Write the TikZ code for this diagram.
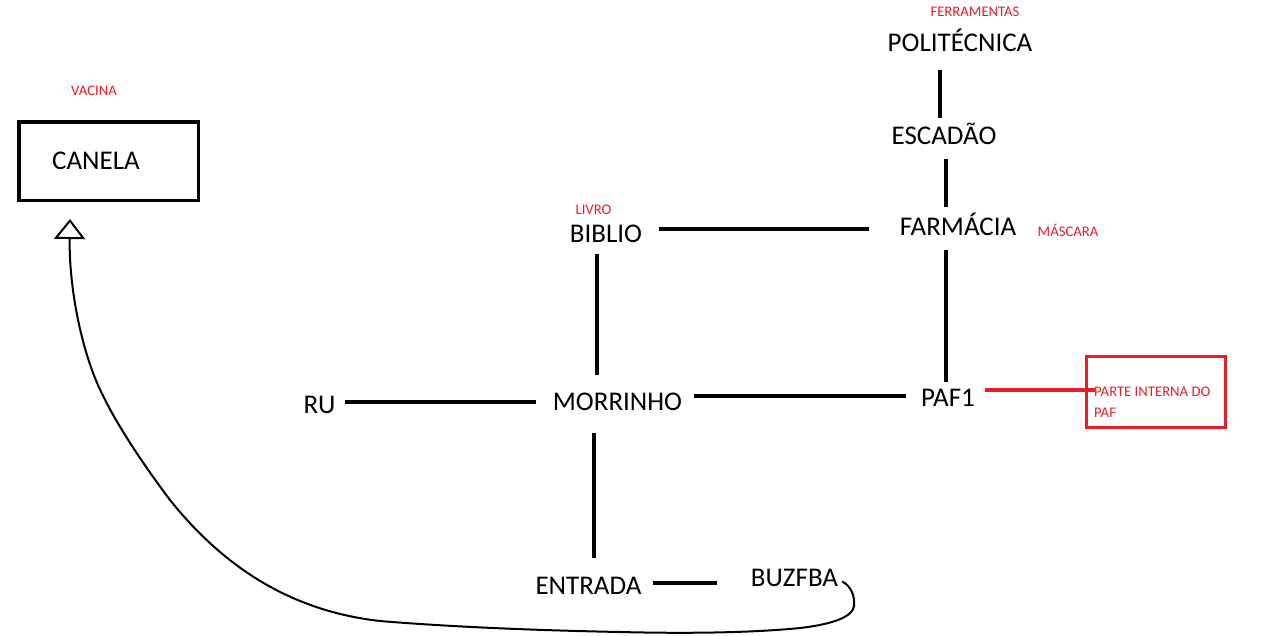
\documentclass[tikz,border=0pt]{standalone}
\usepackage{fontspec}
\setmainfont{Carlito}
\usetikzlibrary{arrows.meta}
\definecolor{pred}{RGB}{237,28,36}
\tikzset{
  lbl/.style={font=\fontsize{27}{32}\selectfont, inner sep=0pt, text height=17.4pt, text depth=0pt},
  rlbl/.style={font=\fontsize{14.7}{20.5}\selectfont, text=pred, inner sep=0pt, text height=9.5pt, text depth=0pt},
  conn/.style={line width=3.2pt, draw=black},
  rconn/.style={line width=3.2pt, draw=pred},
}
\begin{document}
\begin{tikzpicture}[x=1pt,y=-1pt]
\useasboundingbox (0,0) rectangle (1280,635);
\fill[white] (0,0) rectangle (1280,635);

% nodes
\node[rlbl] (vac) at (94,91) {VACINA};
\node[lbl, draw, line width=3.5pt, minimum width=179.5pt, minimum height=78.5pt] (can) at (108.5,161) {\hspace*{-25pt}CANELA};
\node[rlbl] (ferr) at (975,12) {FERRAMENTAS};
\node[lbl] (pol) at (960,42.5) {POLITÉCNICA};
\node[lbl] (esc) at (944,136) {ESCADÃO};
\node[lbl] (far) at (958,227) {FARMÁCIA};
\node[rlbl] (masc) at (1068,232) {MÁSCARA};
\node[rlbl] (livro) at (593.5,210) {LIVRO};
\node[lbl] (bib) at (606,233.5) {BIBLIO};
\node[lbl] (ru) at (319.5,405) {RU};
\node[lbl] (mor) at (617.5,401.5) {MORRINHO};
\node[lbl] (paf) at (948,398) {PAF1};
\node[lbl] (ent) at (588.5,586) {ENTRADA};
\node[lbl] (buz) at (794.5,577.5) {BUZFBA};
\node[draw=pred, line width=3pt, minimum width=139pt, minimum height=71pt, inner sep=0pt] (pbox) at (1156,392) {};
\node[font=\fontsize{14.7}{20.5}\selectfont, text=pred, inner sep=0pt, anchor=north west, align=left] (ptxt) at (1094,387) {PARTE INTERNA DO\\PAF};

% connectors
\draw[conn, shorten <=19pt, shorten >=9pt] ([xshift=-20pt]pol.south) -- ([xshift=-4pt]esc.north);
\draw[conn, shorten <=14pt, shorten >=11pt] ([xshift=2pt]esc.south) -- ([xshift=-12pt]far.north);
\draw[conn, shorten <=14pt, shorten >=7pt] ([xshift=-12pt]far.south) -- ([xshift=-2pt]paf.north);
\draw[conn, shorten <=17pt, shorten >=31pt] ([yshift=4.5pt]bib.east) -- ([yshift=-2pt]far.west);
\draw[conn, shorten <=12pt, shorten >=18pt] ([xshift=-9pt]bib.south) -- ([xshift=-20.5pt]mor.north);
\draw[conn, shorten <=9pt, shorten >=17pt] ([yshift=3pt]ru.east) -- ([yshift=-0.5pt]mor.west);
\draw[conn, shorten <=12pt, shorten >=15pt] ([yshift=5.5pt]mor.east) -- ([yshift=2pt]paf.west);
\draw[conn, shorten <=23pt, shorten >=19pt] ([xshift=-23.5pt]mor.south) -- ([xshift=5.5pt]ent.north);
\draw[conn, shorten <=11pt, shorten >=34pt] ([yshift=3pt]ent.east) -- ([yshift=-5.5pt]buz.west);
\draw[rconn, shorten <=10pt] ([yshift=8pt]paf.east) -- ([xshift=10pt,yshift=2pt]pbox.west);

% curved arrow BUZFBA -> CANELA
\draw[line width=2pt, -{Triangle[open, length=20pt, width=31pt]}]
  ([xshift=4pt,yshift=-4pt]buz.east) .. controls (851,586) and (855,596) .. (854,606)
  .. controls (853,616) and (835,624) .. (800,628)
  .. controls (760,632) and (700,634) .. (620,632)
  .. controls (520,630) and (440,626) .. (380,621)
  .. controls (300,612) and (230,575) .. (170,500)
  .. controls (140,460) and (110,415) .. (95,378)
  .. controls (78,335) and (69,280) .. ([xshift=-38.5pt,yshift=-17pt]can.south);
\end{tikzpicture}
\end{document}
